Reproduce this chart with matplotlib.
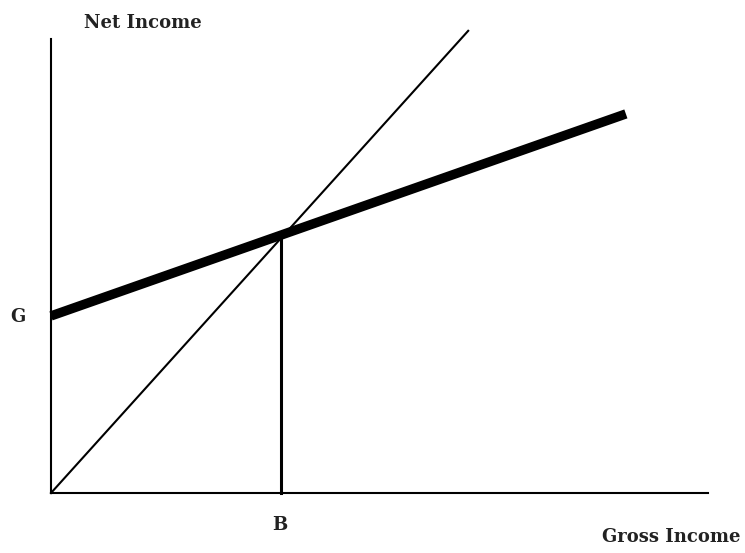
import matplotlib.pyplot as plt

# 45-degree line (net = gross)
diag_gross = [0, 63.5]
diag_net = [0, 101.8]

# thick line: guaranteed income G plus a share of gross
thick_gross = [0, 87.5]
thick_net = [39, 83.5]

# break-even point B
b_gross = [35, 35]
b_net = [0, 56.6]

W, H = 745, 553
fig = plt.figure(figsize=(W / 100, H / 100), dpi=100)
ax = fig.add_axes([51 / W, 1 - 493 / H, 657 / W, 454 / H])
ax.set_xlim(0, 100)
ax.set_ylim(0, 100)

for s in ['top', 'right']:
    ax.spines[s].set_visible(False)
for s in ['left', 'bottom']:
    ax.spines[s].set_linewidth(1.5)
ax.set_xticks([])
ax.set_yticks([])

ax.plot(diag_gross, diag_net, color='black', lw=1.5, clip_on=False)
ax.plot(thick_gross, thick_net, color='black', lw=6.8, solid_capstyle='butt', clip_on=False)
ax.plot(b_gross, b_net, color='black', lw=2.2, clip_on=False)

font = dict(family='DejaVu Serif', fontweight='bold', color='#222222')
fig.text(143 / W, 1 - 23 / H, 'Net Income', ha='center', va='center', fontsize=13, **font)
fig.text(18 / W, 1 - 317 / H, 'G', ha='center', va='center', fontsize=13, **font)
fig.text(280 / W, 1 - 525 / H, 'B', ha='center', va='center', fontsize=13, **font)
fig.text(671 / W, 1 - 537 / H, 'Gross Income', ha='center', va='center', fontsize=13, **font)

fig.savefig('out.png', dpi=100)
